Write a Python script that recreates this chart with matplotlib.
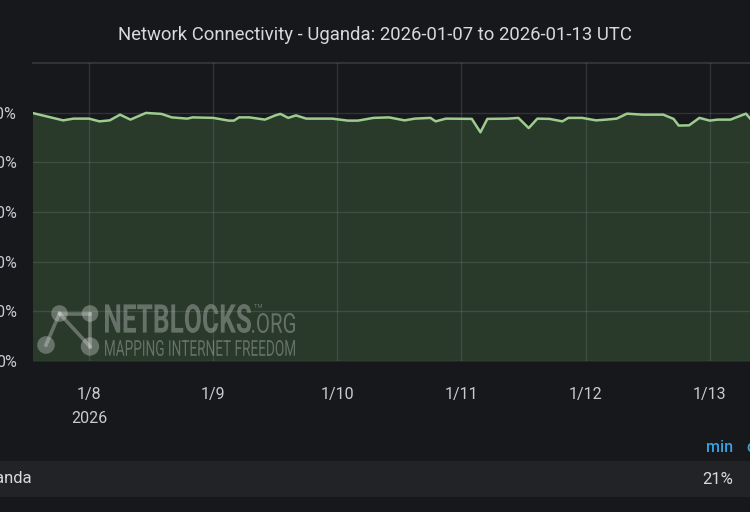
#!/usr/bin/env python3
"""
Network connectivity panel (Uganda), Grafana-style dark theme.
Saves out.png at 750x512.
"""

import matplotlib
matplotlib.use('Agg')
import matplotlib.pyplot as plt
from matplotlib.patches import Circle, Rectangle, PathPatch
from matplotlib.textpath import TextPath
from matplotlib.font_manager import FontProperties
from matplotlib.transforms import Affine2D
import pandas as pd

# ─── Data ────────────────────────────────────────────────────────────────────
TITLE = 'Network Connectivity - Uganda: 2026-01-07 to 2026-01-13 UTC'
SERIES_NAME = 'Uganda'
LEGEND_MIN = '21%'

timestamps = [
    '2026-01-07 13:00', '2026-01-07 19:00', '2026-01-07 21:00', '2026-01-08 00:00',
    '2026-01-08 02:00', '2026-01-08 04:00', '2026-01-08 06:00', '2026-01-08 08:00',
    '2026-01-08 11:00', '2026-01-08 14:00', '2026-01-08 16:00', '2026-01-08 19:00',
    '2026-01-08 20:00', '2026-01-09 00:00', '2026-01-09 03:00', '2026-01-09 04:00',
    '2026-01-09 05:00', '2026-01-09 07:00', '2026-01-09 10:00', '2026-01-09 12:00',
    '2026-01-09 13:00', '2026-01-09 14:30', '2026-01-09 16:00', '2026-01-09 18:00',
    '2026-01-09 23:00', '2026-01-10 02:00', '2026-01-10 04:00', '2026-01-10 07:00',
    '2026-01-10 10:00', '2026-01-10 13:00', '2026-01-10 15:00', '2026-01-10 18:00',
    '2026-01-10 19:00', '2026-01-10 21:00', '2026-01-11 02:00', '2026-01-11 03:40',
    '2026-01-11 05:00', '2026-01-11 09:00', '2026-01-11 11:00', '2026-01-11 13:00',
    '2026-01-11 14:40', '2026-01-11 17:00', '2026-01-11 19:30', '2026-01-11 20:40',
    '2026-01-11 23:20', '2026-01-12 02:00', '2026-01-12 04:00', '2026-01-12 06:00',
    '2026-01-12 08:00', '2026-01-12 11:00', '2026-01-12 15:00', '2026-01-12 17:00',
    '2026-01-12 18:00', '2026-01-12 20:00', '2026-01-12 22:00', '2026-01-13 00:00',
    '2026-01-13 01:30', '2026-01-13 04:00', '2026-01-13 07:00', '2026-01-13 08:00',
]
connectivity = [
    99.9, 96.9, 97.6, 97.6,
    96.5, 96.9, 99.2, 97.2,
    99.9, 99.5, 98.1, 97.6,
    98.1, 97.9, 96.8, 96.8,
    98.1, 98.1, 97.2, 98.9,
    99.5, 97.9, 98.9, 97.6,
    97.6, 96.8, 96.8, 97.9,
    98.1, 96.9, 97.6, 97.9,
    96.5, 97.6, 97.5, 92.1,
    97.5, 97.6, 97.9, 93.8,
    97.6, 97.5, 96.5, 97.9,
    97.9, 96.9, 97.2, 97.6,
    99.6, 99.2, 99.2, 97.5,
    94.8, 94.9, 97.9, 96.8,
    97.2, 97.2, 99.6, 97.2,
]
y_ticks = [0, 20, 40, 60, 80, 100]
x_tick_days = ['2026-01-08', '2026-01-09', '2026-01-10', '2026-01-11', '2026-01-12', '2026-01-13']
x_tick_labels = ['1/8\n2026', '1/9', '1/10', '1/11', '1/12', '1/13']

# ─── Style ───────────────────────────────────────────────────────────────────
W, H = 750, 512
BG = '#17181b'
TEXT = '#d8d9da'
TICK_TEXT = '#c7cbd0'
LINE = '#9dcc8f'
FILL = '#73bf69'
BLUE = '#33a2e5'
plt.rcParams['font.family'] = ['Roboto', 'DejaVu Sans']

fig = plt.figure(figsize=(W / 100, H / 100), dpi=100, facecolor=BG)

# pixel (x right, y down) -> figure
PX = Affine2D().scale(1 / W, -1 / H).translate(0, 1) + fig.transFigure

# axes placed in pixels: left 33, top 63, bottom 361, right beyond the crop
ax_left, ax_right, ax_top, ax_bot = 33, 752, 63, 361
ax = fig.add_axes([ax_left / W, 1 - ax_bot / H, (ax_right - ax_left) / W, (ax_bot - ax_top) / H])
ax.set_facecolor(BG)

t = pd.to_datetime(timestamps)
ax.fill_between(t, connectivity, 0, color=FILL, alpha=0.2, linewidth=0, zorder=2)
ax.plot(t, connectivity, color=LINE, linewidth=1.8, zorder=3)

ax.set_xlim(pd.Timestamp('2026-01-07 13:10'), pd.Timestamp('2026-01-13 08:10'))
ax.set_ylim(0, 120)

ax.set_yticks(y_ticks)
ax.set_yticklabels([f'{v}%' for v in y_ticks])
ax.set_xticks(pd.to_datetime(x_tick_days))
ax.set_xticklabels(x_tick_labels, linespacing=1.75, va='top')

ax.tick_params(axis='both', length=0, colors=TICK_TEXT, labelsize=11.5)
ax.tick_params(axis='y', pad=11.5)
ax.tick_params(axis='x', pad=19)

ax.grid(True, color='#ccccdc', alpha=0.15, linewidth=1, zorder=1)
ax.axhline(120, color='#ccccdc', alpha=0.15, linewidth=1.5, zorder=1, clip_on=False)
for s in ax.spines.values():
    s.set_visible(False)

fig.text(375 / W, 1 - 35 / H, TITLE, ha='center', va='center', color=TEXT, fontsize=13.3)

# ─── NetBlocks watermark ─────────────────────────────────────────────────────
WM = dict(facecolor='#e8e8e8', edgecolor='none', alpha=0.32, zorder=5)


def fitted_text(s, x0, y0, x1, y1, weight='normal'):
    """Text path stretched to fill pixel box (x0, y0)-(x1, y1)."""
    tp = TextPath((0, 0), s, size=1, prop=FontProperties(family='Roboto', weight=weight))
    ext = tp.get_extents()
    sx = (x1 - x0) / ext.width
    sy = (y1 - y0) / ext.height
    tr = Affine2D().translate(-ext.x0, -ext.y0).scale(sx, -sy).translate(x0, y1)
    fig.add_artist(PathPatch(tr.transform_path(tp), transform=PX, **WM))


fitted_text('NETBLOCKS', 105, 304, 251, 333, weight='bold')
fitted_text('.ORG', 252, 313, 295, 333)
fitted_text('TM', 254, 304, 262, 308)
fitted_text('MAPPING INTERNET FREEDOM', 105, 340, 295, 356)

nodes = [(59.5, 313.5), (90, 313.5), (46, 345), (90, 346.5)]
for a, b in [(0, 1), (0, 2), (0, 3), (1, 3)]:
    (xa, ya), (xb, yb) = nodes[a], nodes[b]
    fig.add_artist(plt.Line2D([xa, xb], [ya, yb], transform=PX, color='#e8e8e8',
                              alpha=0.32, linewidth=2.6, zorder=5))
for (cx, cy), r in zip(nodes, [8.3, 8.3, 8.8, 9.2]):
    fig.add_artist(Circle((cx, cy), r, transform=PX, **WM))

# ─── Legend table ────────────────────────────────────────────────────────────
fig.add_artist(Rectangle((0, 461), W, 36, transform=PX, facecolor='#222326',
                         edgecolor='none', zorder=0))
fig.text(733 / W, 1 - 448 / H, 'min', ha='right', va='center', color=BLUE,
         fontsize=11.5, fontweight='medium')
fig.text(746 / W, 1 - 448 / H, 'current', ha='left', va='center', color=BLUE,
         fontsize=11.5, fontweight='medium')
fig.text(-24 / W, 1 - 479 / H, SERIES_NAME, ha='left', va='center', color=TEXT, fontsize=12)
fig.text(733 / W, 1 - 479 / H, LEGEND_MIN, ha='right', va='center', color=TEXT, fontsize=12)

fig.savefig('out.png', dpi=100, facecolor=BG)
plt.close()
